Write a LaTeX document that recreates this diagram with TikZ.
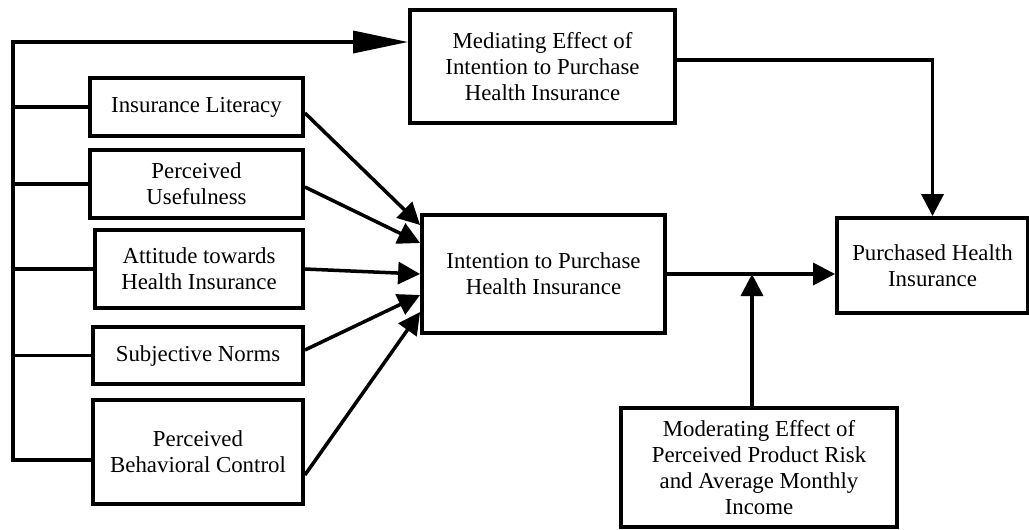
\documentclass[tikz,border=0pt]{standalone}
\usepackage{fontspec}
\setmainfont{Liberation Serif}
\usetikzlibrary{arrows.meta}

\begin{document}
\begin{tikzpicture}[x=0.02cm,y=-0.02cm,
  box/.style={shape=rectangle,draw,line width=2.2pt,align=center,inner sep=2pt,font=\fontsize{13}{14.7}\selectfont},
  link/.style={line width=2pt},
  arr/.style={line width=2pt,-{Triangle[length=0.44cm,width=0.44cm]}}]
%[inner sep=2pt]
\useasboundingbox (0,0) rectangle (1029,529);
\path (542.5,66.5) node (mediate) [box,minimum width=5.3cm,minimum height=2.26cm] {Mediating Effect of\\Intention to Purchase\\Health Insurance};
\path (196.5,107) node (lit) [box,minimum width=4.26cm,minimum height=1.16cm] {Insurance Literacy};
\path (196.5,184) node (useful) [box,minimum width=4.26cm,minimum height=1.36cm] {Perceived\\Usefulness};
\path (199,269) node (attitude) [box,minimum width=4.16cm,minimum height=1.56cm] {Attitude towards\\Health Insurance};
\path (198,355.5) node (norms) [box,minimum width=4.2cm,minimum height=1.14cm] {Subjective Norms};
\path (198,452) node (control) [box,minimum width=4.2cm,minimum height=2.08cm] {Perceived\\Behavioral Control};
\path (543.5,274) node (intent) [box,minimum width=4.86cm,minimum height=2.36cm] {Intention to Purchase\\Health Insurance};
\path (932.5,265.5) node (purchased) [box,minimum width=3.82cm,minimum height=1.9cm] {Purchased Health\\Insurance};
\path (759,467.5) node (moderate) [box,minimum width=5.52cm,minimum height=2.38cm] {Moderating Effect of\\Perceived Product Risk\\and Average Monthly\\Income};

\coordinate (top) at (13,42);
\coordinate (bottom) at (13,460);
\coordinate (junction) at (752,274);

\draw [arr,-{Triangle[length=1.1cm,width=0.44cm]}] (bottom -| control.west) -- (bottom) -- (top) to (top -| mediate.west);
\draw [link] (lit.west -| top) to (lit.west);
\draw [link] (useful.west -| top) to (useful.west);
\draw [link] (attitude.west -| top) to (attitude.west);
\draw [link] (norms.west -| top) to (norms.west);

\draw [arr] ([yshift=-0.12cm]lit.east) to ([yshift=0.98cm]intent.west);
\draw [arr] ([yshift=-0.06cm]useful.east) to ([yshift=0.62cm]intent.west);
\draw [arr] (attitude.east) to (intent.west);
\draw [arr] ([yshift=0.11cm]norms.east) to ([yshift=-0.42cm]intent.west);
\draw [arr] ([yshift=-0.46cm]control.east) to ([yshift=-0.76cm]intent.west);

\draw [arr] (intent.east) to (intent.east -| purchased.west);
\draw [arr] (junction |- moderate.north) to (junction);
\draw [arr] ([yshift=0.13cm]mediate.east) -| (purchased.north);
\end{tikzpicture}
\end{document}
